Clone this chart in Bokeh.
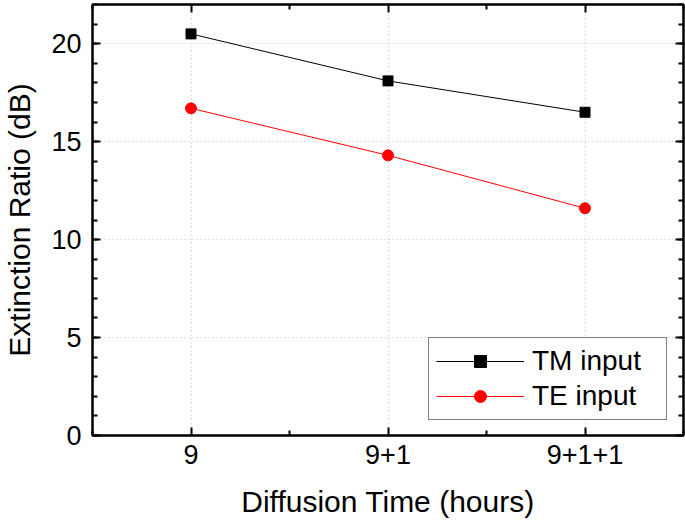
from bokeh.plotting import figure
from bokeh.models import FixedTicker, LinearAxis, Range1d, Legend, LegendItem
from bokeh.embed import file_html
from bokeh.resources import INLINE

categories = ["9", "9+1", "9+1+1"]
x_pos = [1, 2, 3]
tm_input = [20.5, 18.1, 16.5]
te_input = [16.7, 14.3, 11.6]
y_ticks = [0, 5, 10, 15, 20]

FONT = "Liberation Sans"

p = figure(width=685, height=520, output_backend="svg", toolbar_location=None,
           x_range=Range1d(0.5, 3.5), y_range=Range1d(0, 22),
           min_border_left=91, min_border_right=2, min_border_top=4, min_border_bottom=83)
p.background_fill_color = "white"
p.border_fill_color = "white"
p.outline_line_color = "black"
p.outline_line_width = 2

l1 = p.line(x_pos, tm_input, line_color="black", line_width=1)
m1 = p.scatter(x_pos, tm_input, marker="square", size=10, fill_color="black", line_color="black")
l2 = p.line(x_pos, te_input, line_color="red", line_width=1)
m2 = p.scatter(x_pos, te_input, marker="circle", size=11, fill_color="red", line_color="red")

xt = FixedTicker(ticks=x_pos, minor_ticks=[0.5, 1.5, 2.5, 3.5])
yt = FixedTicker(ticks=y_ticks, minor_ticks=list(range(0, 23)))

def style_axis(ax, labels=True):
    ax.axis_line_width = 2
    ax.axis_line_color = "black"
    ax.major_tick_in = 8
    ax.major_tick_out = 0
    ax.minor_tick_in = 5
    ax.minor_tick_out = 0
    ax.major_tick_line_width = 2
    ax.minor_tick_line_width = 2
    ax.major_label_text_font = FONT
    ax.major_label_text_font_size = "27px"
    ax.major_label_text_color = "black"
    ax.axis_label_text_font = FONT
    ax.axis_label_text_font_size = "30px"
    ax.axis_label_text_font_style = "normal"
    ax.axis_label_text_color = "black"
    if not labels:
        ax.major_label_text_font_size = "0px"
        ax.major_label_text_alpha = 0

xa = p.xaxis[0]
xa.ticker = xt
xa.major_label_overrides = {1: "9", 2: "9+1", 3: "9+1+1"}
xa.axis_label = "Diffusion Time (hours)"
style_axis(xa)
xa.major_label_standoff = 9
xa.axis_label_standoff = 18

ya = p.yaxis[0]
ya.ticker = yt
ya.axis_label = "Extinction Ratio (dB)"
style_axis(ya)
ya.major_label_standoff = 11
ya.axis_label_standoff = 12

top = LinearAxis(ticker=FixedTicker(ticks=x_pos, minor_ticks=[0.5, 1.5, 2.5, 3.5]))
style_axis(top, labels=False)
top.major_label_overrides = {1: "", 2: "", 3: ""}
p.add_layout(top, "above")
right = LinearAxis(ticker=FixedTicker(ticks=y_ticks, minor_ticks=list(range(0, 23))))
style_axis(right, labels=False)
right.major_label_overrides = {t: "" for t in y_ticks}
p.add_layout(right, "right")

p.xgrid.ticker = xt
p.ygrid.ticker = yt
for g in (p.xgrid, p.ygrid):
    g.grid_line_color = "#c4c4c4"
    g.grid_line_dash = "1 3"
    g.grid_line_width = 1

legend = Legend(items=[LegendItem(label="TM input", renderers=[l1, m1]),
                       LegendItem(label="TE input", renderers=[l2, m2])],
                location=(336, 15))
legend.border_line_color = "black"
legend.border_line_width = 1
legend.background_fill_color = "white"
legend.background_fill_alpha = 1
legend.label_text_font = FONT
legend.label_text_font_size = "28px"
legend.label_text_color = "black"
legend.glyph_width = 88
legend.glyph_height = 30
legend.label_height = 30
legend.label_width = 127
legend.label_standoff = 8
legend.spacing = 3
legend.padding = 7
legend.margin = 0
p.add_layout(legend, "center")

open("out.html", "w").write(file_html(p, INLINE))
